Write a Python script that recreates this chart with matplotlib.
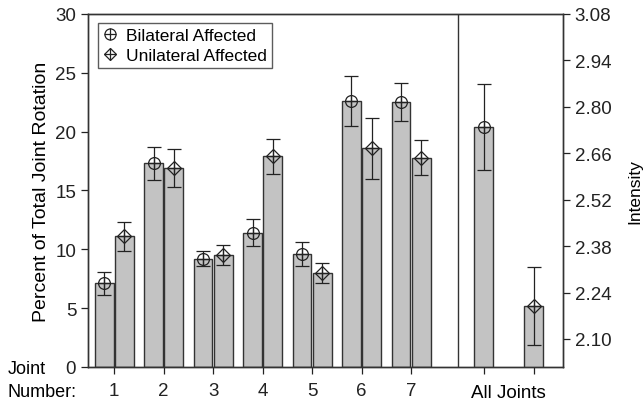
import matplotlib
matplotlib.use('Agg')
import matplotlib.pyplot as plt
import numpy as np

plt.rcParams['font.family'] = ['Liberation Sans', 'DejaVu Sans']

# Data
joints = [1, 2, 3, 4, 5, 6, 7]
joint_labels = ['1', '2', '3', '4', '5', '6', '7']
bilateral = [7.1, 17.3, 9.2, 11.4, 9.6, 22.6, 22.5]
bilateral_err = [1.0, 1.4, 0.65, 1.15, 1.0, 2.1, 1.6]
unilateral = [11.1, 16.9, 9.5, 17.9, 8.0, 18.6, 17.8]
unilateral_err = [1.2, 1.6, 0.85, 1.5, 0.85, 2.6, 1.45]

# Intensity for all joints (right axis)
intensity = [2.74, 2.20]
intensity_err = [0.13, 0.117]
intensity_ticks = [2.10, 2.24, 2.38, 2.52, 2.66, 2.80, 2.94, 3.08]

bar_color = '#c3c3c3'
edge = '#333333'
w = 0.38
off = 0.205

fig = plt.figure(figsize=(6.43, 4.02), dpi=100)
ax = fig.add_axes([0.1369, 0.0846, 0.7387, 0.8781])
ax2 = ax.twinx()

x = np.array(joints, dtype=float)

def draw_group(a, xs, vals, errs, base, marker):
    vals = np.array(vals)
    a.bar(xs, vals - base, bottom=base, width=w, color=bar_color,
          edgecolor=edge, linewidth=1.0, zorder=2)
    a.errorbar(xs, vals, yerr=errs, fmt='none', ecolor='#222222',
               elinewidth=0.9, capsize=5, capthick=0.9, zorder=3)
    if marker == 'circle':
        a.plot(xs, vals, 'o', ms=8.5, mfc='none', mec='#222222', mew=0.9, zorder=4)
    else:
        a.plot(xs, vals, 'D', ms=7, mfc='none', mec='#222222', mew=0.9, zorder=4)
    a.plot(xs, vals, '+', ms=8.5, mec='#222222', mew=0.9, zorder=4)

draw_group(ax, x - off, bilateral, bilateral_err, 0, 'circle')
draw_group(ax, x + off, unilateral, unilateral_err, 0, 'diamond')

ax.set_xlim(0.47, 10.07)
ax.set_ylim(0, 30)
ax.set_yticks([0, 5, 10, 15, 20, 25, 30])
ax.set_ylabel('Percent of Total Joint Rotation', fontsize=14, labelpad=4)

# right axis
ylo = 2.0155
all_x = [8.47, 9.48]
draw_group(ax2, np.array([all_x[0]]), [intensity[0]], [intensity_err[0]], ylo, 'circle')
draw_group(ax2, np.array([all_x[1]]), [intensity[1]], [intensity_err[1]], ylo, 'diamond')
ax2.set_ylim(ylo, 3.08)
ax2.set_yticks(intensity_ticks)
ax2.set_yticklabels(['%.2f' % t for t in intensity_ticks])
fig.text(0.999, 0.5235, 'Intensity', rotation=90, fontsize=12.5,
         ha='right', va='center')

ax.axvline(7.95, color=edge, lw=1.0, zorder=1)

ax.set_xticks(joints + all_x)
ax.set_xticklabels(joint_labels + ['', ''])
ax.text(np.mean(all_x), -0.073, 'All Joints', transform=ax.get_xaxis_transform(),
        ha='center', va='center', fontsize=13.5)
fig.text(0.012, 0.08, 'Joint', fontsize=13, ha='left', va='center')
fig.text(0.012, 0.024, 'Number:', fontsize=13, ha='left', va='center')

for a in (ax, ax2):
    for s in a.spines.values():
        s.set_color(edge)
        s.set_linewidth(1.0)
    a.tick_params(labelsize=13.5, colors='#222222', length=5, width=0.9)
ax.tick_params(axis='x', pad=6)

# legend
h1 = (plt.Line2D([], [], ls='none', marker='o', ms=8, mfc='none', mec='#222222', mew=0.9),
      plt.Line2D([], [], ls='none', marker='+', ms=8, mec='#222222', mew=0.9))
h2 = (plt.Line2D([], [], ls='none', marker='D', ms=6.5, mfc='none', mec='#222222', mew=0.9),
      plt.Line2D([], [], ls='none', marker='+', ms=8, mec='#222222', mew=0.9))
leg = ax2.legend([h1, h2], ['Bilateral Affected', 'Unilateral Affected'],
                 loc='upper left', bbox_to_anchor=(0.021, 0.975), fontsize=12.5,
                 frameon=True, fancybox=False, handlelength=0.8, handletextpad=0.5,
                 borderpad=0.3, labelspacing=0.25, borderaxespad=0)
leg.get_frame().set_edgecolor(edge)
leg.get_frame().set_linewidth(1.0)

fig.savefig('out.png', dpi=100)
